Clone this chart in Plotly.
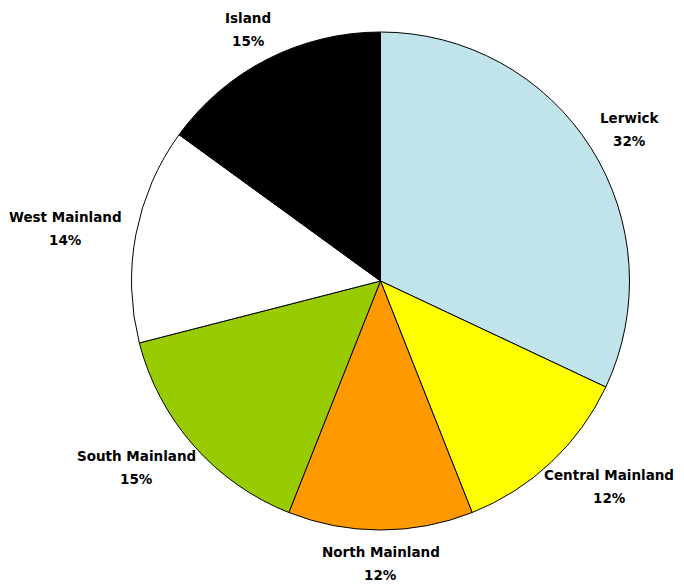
import math
import plotly.graph_objects as go

# Share of population by area
areas = ["Lerwick", "Central Mainland", "North Mainland", "South Mainland", "West Mainland", "Island"]
shares = [32, 12, 12, 15, 14, 15]
colors = ["#C0E4EA", "#FFFF00", "#FF9900", "#99CC00", "#FFFFFF", "#000000"]

W, H = 684, 587
cx, cy, r = 380.5, 281, 249          # pie centre and radius in pixels
FONT = dict(family="DejaVu Sans", size=13.5, color="#000000", weight="bold")

fig = go.Figure(go.Pie(
    labels=areas,
    values=shares,
    sort=False,
    direction="clockwise",
    rotation=0,
    marker=dict(colors=colors, line=dict(color="#000000", width=1)),
    textinfo="none",
    domain=dict(x=[(cx - r) / W, (cx + r) / W], y=[1 - (cy + r) / H, 1 - (cy - r) / H]),
    showlegend=False,
    hoverinfo="skip",
))

# Outside labels: placed along each slice's mid-angle, pushed out by the
# half-size of the text block so the block sits just beyond the rim.
total = sum(shares)
gap, half_h, line_gap, char_w = 16, 17, 11.5, 8.6
cum = 0
for name, val in zip(areas, shares):
    mid = (cum + val / 2) / total * 2 * math.pi
    cum += val
    s, c = math.sin(mid), -math.cos(mid)
    pct = f"{round(val / total * 100)}%"
    half_w = max(len(name), len(pct)) * char_w / 2
    bx = cx + (r + gap) * s + s * half_w
    by = cy + (r + gap) * c + c * half_h
    for txt, dy in ((name, -line_gap), (pct, line_gap)):
        fig.add_annotation(
            x=bx / W, y=1 - (by + dy) / H, xref="paper", yref="paper",
            text=txt, showarrow=False, xanchor="center", yanchor="middle",
            font=FONT,
        )

fig.update_layout(
    width=W, height=H,
    margin=dict(l=0, r=0, t=0, b=0),
    paper_bgcolor="#FFFFFF",
    plot_bgcolor="#FFFFFF",
)

fig.write_html("out.html")
